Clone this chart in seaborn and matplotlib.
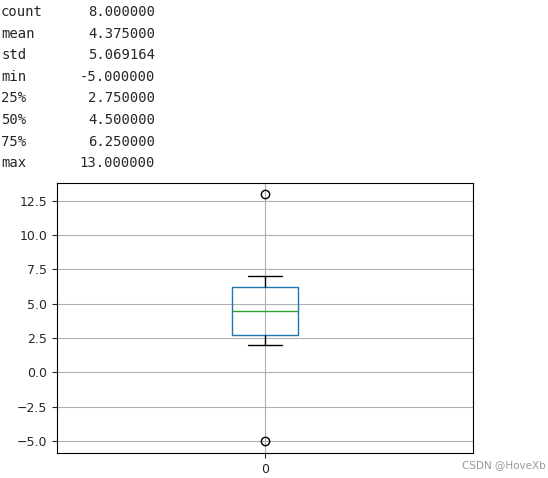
import numpy as np
import pandas as pd
import matplotlib.pyplot as plt
import seaborn as sns

values = [-5, 2, 3, 4.5, 4.5, 6, 7, 13]
stat_names = ["count", "mean", "std", "min", "25%", "50%", "75%", "max"]
stat_values = ["8.000000", "4.375000", "5.069164", "-5.000000",
               "2.750000", "4.500000", "6.250000", "13.000000"]

df = pd.DataFrame({"v": values})

sns.set_style("whitegrid")
fig = plt.figure(figsize=(5.48, 4.78), dpi=100)

# describe() printout above the chart
for i, (n, v) in enumerate(zip(stat_names, stat_values)):
    y = 1 - (12 + i * 21.6) / 478
    fig.text(0.002, y, n, family="DejaVu Sans Mono", fontsize=10, va="center")
    fig.text(0.283, y, v, family="DejaVu Sans Mono", fontsize=10, va="center", ha="right")

ax = fig.add_axes([0.104, 0.052, 0.759, 0.565])
sns.boxplot(y=df["v"], ax=ax, width=0.16, fill=False, linewidth=1,
            boxprops=dict(color="#1f77b4"),
            medianprops=dict(color="#2ca02c"),
            whiskerprops=dict(color="black"),
            capprops=dict(color="black"),
            flierprops=dict(marker="o", markerfacecolor="none",
                            markeredgecolor="black", markersize=6))
ax.set_xlim(-0.5, 0.5)
ax.set_ylim(-5.9, 13.8)
ax.set_yticks(np.arange(-5, 13.0, 2.5))
ax.set_xticks([0])
ax.set_xticklabels(["0"])
ax.set_ylabel("")
ax.grid(True, color="#b0b0b0", linewidth=0.8)
for s in ax.spines.values():
    s.set_color("black")
    s.set_linewidth(0.8)
ax.tick_params(axis="both", labelsize=9, length=3.5, left=True, bottom=True)

fig.text(0.995, 0.02, "CSDN @HoveXb", fontsize=7.5, color="#999999", ha="right")

fig.savefig("out.png", dpi=100)
